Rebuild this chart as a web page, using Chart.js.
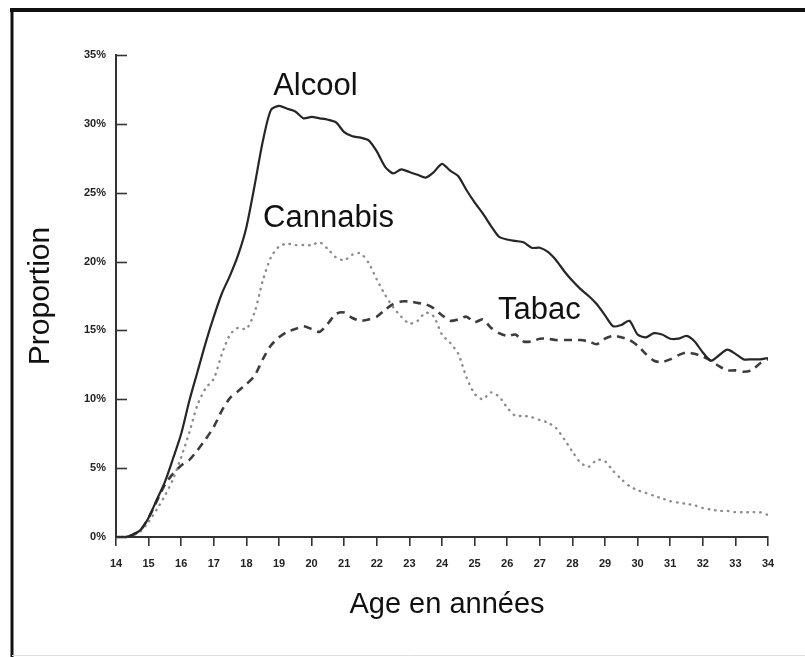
<!DOCTYPE html>
<html>
<head>
<meta charset="utf-8">
<script src="https://cdn.jsdelivr.net/npm/chart.js@4.4.1/dist/chart.umd.min.js"></script>
<style>
  html, body { margin: 0; padding: 0; background: #fff; }
  #wrap { width: 805px; height: 657px; position: relative; }
</style>
</head>
<body>
<div id="wrap"><canvas id="c" width="805" height="657"></canvas></div>
<script>
// ---- Data ----
const ages = [
  14.0, 14.25, 14.5, 14.75, 15.0, 15.25, 15.5, 15.75, 16.0, 16.25, 16.5, 16.75,
  17.0, 17.25, 17.5, 17.75, 18.0, 18.25, 18.5, 18.75, 19.0, 19.25, 19.5, 19.75,
  20.0, 20.25, 20.5, 20.75, 21.0, 21.25, 21.5, 21.75, 22.0, 22.25, 22.5, 22.75,
  23.0, 23.25, 23.5, 23.75, 24.0, 24.25, 24.5, 24.75, 25.0, 25.25, 25.5, 25.75,
  26.0, 26.25, 26.5, 26.75, 27.0, 27.25, 27.5, 27.75, 28.0, 28.25, 28.5, 28.75,
  29.0, 29.25, 29.5, 29.75, 30.0, 30.25, 30.5, 30.75, 31.0, 31.25, 31.5, 31.75,
  32.0, 32.25, 32.5, 32.75, 33.0, 33.25, 33.5, 33.75, 34.0
];
const alcool = [
  0, 0, 0.15, 0.5, 1.4, 2.7, 4.0, 5.7, 7.5, 9.9, 12.0, 14.1,
  16.0, 17.7, 19.0, 20.5, 22.5, 25.5, 28.7, 31.0, 31.3, 31.1, 30.9, 30.4,
  30.5, 30.4, 30.3, 30.1, 29.4, 29.1, 29.0, 28.8, 28.0, 26.9, 26.4, 26.7,
  26.5, 26.3, 26.1, 26.5, 27.1, 26.6, 26.2, 25.2, 24.3, 23.5, 22.6, 21.8,
  21.6, 21.5, 21.4, 21.0, 21.0, 20.7, 20.1, 19.3, 18.6, 18.0, 17.5, 16.9,
  16.1, 15.3, 15.4, 15.7, 14.7, 14.5, 14.8, 14.7, 14.4, 14.4, 14.6, 14.2,
  13.4, 12.8, 13.2, 13.6, 13.3, 12.9, 12.9, 12.9, 13.0
];
const cannabis = [
  0, 0, 0.1, 0.4, 1.1, 2.0, 3.0, 4.2, 5.8, 7.6, 9.6, 10.8,
  11.5, 13.3, 14.7, 15.2, 15.1, 16.3, 18.6, 20.3, 21.1, 21.3, 21.2, 21.2,
  21.2, 21.4, 20.9, 20.3, 20.1, 20.5, 20.6, 19.9, 18.7, 17.6, 16.7, 16.0,
  15.5, 15.7, 16.3, 16.0, 14.7, 14.1, 13.3, 11.6, 10.4, 10.0, 10.5, 10.2,
  9.4, 8.8, 8.8, 8.7, 8.5, 8.3, 7.9, 7.1, 6.2, 5.4, 5.1, 5.6,
  5.5, 4.8, 4.2, 3.7, 3.4, 3.2, 3.0, 2.8, 2.6, 2.5, 2.4, 2.3,
  2.1, 2.0, 1.9, 1.9, 1.8, 1.8, 1.8, 1.8, 1.6
];
const tabac = [
  0, 0, 0.15, 0.5, 1.4, 2.6, 3.8, 4.6, 5.2, 5.6, 6.3, 7.1,
  8.0, 9.2, 10.1, 10.6, 11.1, 11.7, 12.9, 13.9, 14.5, 14.9, 15.1, 15.3,
  15.1, 14.9, 15.5, 16.2, 16.3, 15.9, 15.7, 15.8, 16.0, 16.5, 16.9, 17.1,
  17.1, 17.0, 16.9, 16.6, 16.1, 15.7, 15.8, 16.0, 15.6, 15.8, 15.2, 14.8,
  14.6, 14.7, 14.2, 14.2, 14.4, 14.4, 14.3, 14.3, 14.3, 14.3, 14.2, 14.0,
  14.4, 14.6, 14.5, 14.3, 13.9, 13.3, 12.8, 12.7, 12.9, 13.2, 13.4, 13.3,
  13.1, 12.8, 12.4, 12.1, 12.1, 12.0, 12.1, 12.6, 12.9
];
const seriesNames = ["Alcool", "Cannabis", "Tabac"];
const yTicks = [0, 5, 10, 15, 20, 25, 30, 35];
const xTicks = [14, 15, 16, 17, 18, 19, 20, 21, 22, 23, 24, 25, 26, 27, 28, 29, 30, 31, 32, 33, 34];
const xTitle = "Age en années";
const yTitle = "Proportion";

function pts(vals) { return ages.map((a, i) => ({ x: a, y: vals[i] })); }

const FONT = "'Liberation Sans', Arial, sans-serif";

const decor = {
  id: 'decor',
  afterDraw(chart) {
    const ctx = chart.ctx;
    const xs = chart.scales.x, ys = chart.scales.y;
    ctx.save();
    // outer frame (left and top lines)
    ctx.strokeStyle = '#111';
    ctx.lineWidth = 4;
    ctx.beginPath(); ctx.moveTo(10, 10); ctx.lineTo(805, 10); ctx.stroke();
    ctx.lineWidth = 3;
    ctx.beginPath(); ctx.moveTo(12, 9); ctx.lineTo(12, 657); ctx.stroke();
    ctx.strokeStyle = '#ddd'; ctx.lineWidth = 1;
    ctx.beginPath(); ctx.moveTo(12, 655.5); ctx.lineTo(805, 655.5); ctx.stroke();

    // inward y ticks
    ctx.strokeStyle = '#333'; ctx.lineWidth = 1.6;
    const x0 = xs.getPixelForValue(14);
    yTicks.forEach(v => {
      const py = Math.round(ys.getPixelForValue(v)) + 0.5;
      ctx.beginPath(); ctx.moveTo(x0, py); ctx.lineTo(x0 + 11, py); ctx.stroke();
    });

    // series labels (anchored in data coordinates)
    ctx.fillStyle = '#111';
    ctx.textBaseline = 'alphabetic';
    ctx.textAlign = 'left';
    ctx.font = '31px ' + FONT;
    const lab = [[seriesNames[0], 18.82, 32.1], [seriesNames[1], 18.51, 22.5], [seriesNames[2], 25.72, 15.8]];
    lab.forEach(([t, ax, ay]) => ctx.fillText(t, xs.getPixelForValue(ax), ys.getPixelForValue(ay)));

    // axis titles
    ctx.font = '29px ' + FONT;
    ctx.textAlign = 'center';
    ctx.fillText(xTitle, (xs.left + xs.right) / 2 + 5, 613);
    ctx.translate(49, 296);
    ctx.rotate(-Math.PI / 2);
    ctx.font = '30px ' + FONT;
    ctx.fillText(yTitle, 0, 0);
    ctx.restore();
  }
};

new Chart(document.getElementById('c'), {
  type: 'line',
  data: {
    datasets: [
      { label: seriesNames[0], data: pts(alcool), borderColor: '#262626', borderWidth: 2.2, tension: 0.25, pointRadius: 0, fill: false },
      { label: seriesNames[1], data: pts(cannabis), borderColor: '#8c8c8c', borderWidth: 2.4, borderDash: [0.5, 6], borderCapStyle: 'round', tension: 0.25, pointRadius: 0, fill: false },
      { label: seriesNames[2], data: pts(tabac), borderColor: '#3c3c3c', borderWidth: 2.6, borderDash: [8, 6], tension: 0.25, pointRadius: 0, fill: false }
    ]
  },
  options: {
    responsive: false,
    animation: false,
    devicePixelRatio: 1,
    layout: { padding: { left: 0, right: 37, top: 55, bottom: 0 } },
    plugins: { legend: { display: false }, tooltip: { enabled: false } },
    scales: {
      x: {
        type: 'linear', min: 14, max: 34,
        afterBuildTicks: s => { s.ticks = xTicks.map(v => ({ value: v })); },
        afterFit: s => { s.height = 120; },
        grid: { display: true, drawOnChartArea: false, drawTicks: true, tickLength: 9, color: '#333', lineWidth: 1.6 },
        border: { display: true, color: '#333', width: 2 },
        ticks: { color: '#222', font: { family: FONT, size: 11, weight: 'bold' }, padding: 11, maxRotation: 0, autoSkip: false }
      },
      y: {
        min: 0, max: 35,
        afterBuildTicks: s => { s.ticks = yTicks.map(v => ({ value: v })); },
        afterFit: s => { s.width = 116; },
        grid: { display: false, drawOnChartArea: false, drawTicks: false },
        border: { display: true, color: '#333', width: 2 },
        ticks: { color: '#222', font: { family: FONT, size: 11, weight: 'bold' }, padding: 10, callback: v => v + '%' }
      }
    }
  },
  plugins: [decor]
});
</script>
</body>
</html>
